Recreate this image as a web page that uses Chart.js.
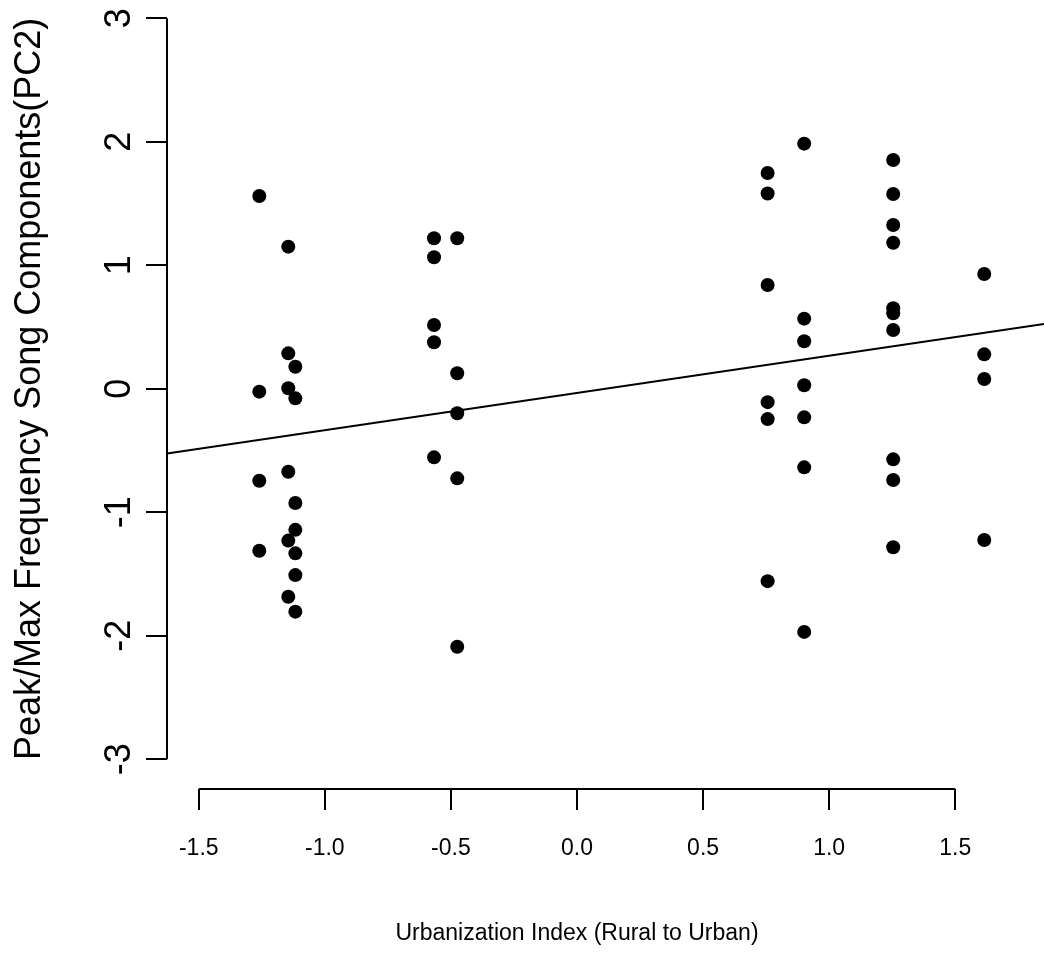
<!DOCTYPE html>
<html>
<head>
<meta charset="utf-8">
<script src="https://cdn.jsdelivr.net/npm/chart.js@4/dist/chart.umd.min.js"></script>
<style>
  html, body { margin: 0; padding: 0; background: #ffffff; }
  #wrap { width: 1044px; height: 957px; position: relative; }
</style>
</head>
<body>
<div id="wrap"><canvas id="chart" width="1044" height="957"></canvas></div>
<script>
// Urbanization index of each recording site (x) and song PC2 score (y)
const urbanIndex = [
  -1.260, -1.260, -1.260, -1.260,
  -1.145, -1.145, -1.145, -1.145, -1.145, -1.145,
  -1.117, -1.117, -1.117, -1.117, -1.117, -1.117, -1.117,
  -0.567, -0.567, -0.567, -0.567, -0.567,
  -0.475, -0.475, -0.475, -0.475, -0.475,
  0.756, 0.756, 0.756, 0.756, 0.756, 0.756,
  0.901, 0.901, 0.901, 0.901, 0.901, 0.901, 0.901,
  1.254, 1.254, 1.254, 1.254, 1.254, 1.254, 1.254, 1.254, 1.254, 1.254,
  1.615, 1.615, 1.615, 1.615
];
const songPC2 = [
  1.561, -0.023, -0.744, -1.311,
  1.151, 0.287, 0.004, -0.671, -1.229, -1.683,
  0.179, -0.077, -0.925, -1.142, -1.332, -1.508, -1.804,
  1.219, 1.065, 0.517, 0.377, -0.555,
  1.219, 0.126, -0.198, -0.725, -2.088,
  1.747, 1.581, 0.841, -0.108, -0.245, -1.557,
  1.985, 0.568, 0.385, 0.029, -0.231, -0.636, -1.968,
  1.853, 1.577, 1.326, 1.183, 0.652, 0.611, 0.476, -0.571, -0.738, -1.283,
  0.930, 0.279, 0.079, -1.224
];

// Fitted regression line, end points
const fitX = [-1.626, 1.852];
const fitY = [-0.523, 0.525];

// Axis ticks and their labels
const xTicks = [-1.5, -1.0, -0.5, 0.0, 0.5, 1.0, 1.5];
const xTickLabels = ['-1.5', '-1.0', '-0.5', '0.0', '0.5', '1.0', '1.5'];
const yTicks = [-3, -2, -1, 0, 1, 2, 3];
const yTickLabels = ['-3', '-2', '-1', '0', '1', '2', '3'];

const xTitle = 'Urbanization Index (Rural to Urban)';
const yTitle = 'Peak/Max Frequency Song Components(PC2)';

const FAMILY = '"Liberation Sans", Arial, Helvetica, sans-serif';
const X_FONT = '23px ' + FAMILY;
const Y_FONT = '36px ' + FAMILY;

// Base-graphics style axes: lines span only the tick range, sitting on the plot edge
const rAxes = {
  id: 'rAxes',
  afterDraw(chart) {
    const ctx = chart.ctx;
    const xs = chart.scales.x, ys = chart.scales.y;
    const area = chart.chartArea;
    const tickLen = 21;
    ctx.save();
    ctx.strokeStyle = '#000';
    ctx.fillStyle = '#000';
    ctx.lineWidth = 2;
    ctx.lineCap = 'butt';

    // x axis
    const xb = area.bottom;
    const x0 = xs.getPixelForValue(xTicks[0]);
    const x1 = xs.getPixelForValue(xTicks[xTicks.length - 1]);
    ctx.beginPath();
    ctx.moveTo(x0, xb); ctx.lineTo(x1, xb);
    xTicks.forEach(v => {
      const px = Math.round(xs.getPixelForValue(v));
      ctx.moveTo(px, xb); ctx.lineTo(px, xb + tickLen);
    });
    ctx.stroke();
    ctx.font = X_FONT;
    ctx.textAlign = 'center';
    ctx.textBaseline = 'middle';
    xTicks.forEach((v, i) => {
      ctx.fillText(xTickLabels[i], xs.getPixelForValue(v), xb + 60);
    });
    ctx.fillText(xTitle, (x0 + x1) / 2, xb + 145);

    // y axis
    const yl = area.left;
    const y0 = ys.getPixelForValue(yTicks[0]);
    const y1 = ys.getPixelForValue(yTicks[yTicks.length - 1]);
    ctx.beginPath();
    ctx.moveTo(yl, y0); ctx.lineTo(yl, y1);
    yTicks.forEach(v => {
      const py = Math.round(ys.getPixelForValue(v));
      ctx.moveTo(yl, py); ctx.lineTo(yl - tickLen, py);
    });
    ctx.stroke();
    ctx.font = Y_FONT;
    yTicks.forEach((v, i) => {
      ctx.save();
      ctx.translate(yl - 47, ys.getPixelForValue(v));
      ctx.rotate(-Math.PI / 2);
      ctx.fillText(yTickLabels[i], 0, 0);
      ctx.restore();
    });
    ctx.save();
    ctx.translate(yl - 137, (y0 + y1) / 2);
    ctx.rotate(-Math.PI / 2);
    ctx.fillText(yTitle, 0, 0);
    ctx.restore();
    ctx.restore();
  }
};

new Chart(document.getElementById('chart'), {
  type: 'scatter',
  data: {
    datasets: [
      {
        type: 'line',
        data: fitX.map((x, i) => ({ x: x, y: fitY[i] })),
        borderColor: '#000',
        borderWidth: 2,
        pointRadius: 0,
        fill: false,
        tension: 0
      },
      {
        type: 'scatter',
        data: urbanIndex.map((x, i) => ({ x: x, y: songPC2[i] })),
        backgroundColor: '#000',
        borderColor: '#000',
        borderWidth: 0,
        pointRadius: 7,
        pointHoverRadius: 7,
        clip: false
      }
    ]
  },
  options: {
    responsive: false,
    devicePixelRatio: 1,
    animation: false,
    events: [],
    layout: { autoPadding: false, padding: { left: 167, top: 0, right: 0, bottom: 168 } },
    scales: {
      x: { type: 'linear', display: false, min: -1.626, max: 1.852 },
      y: { type: 'linear', display: false, min: -3.24, max: 3.148 }
    },
    plugins: {
      legend: { display: false },
      tooltip: { enabled: false }
    }
  },
  plugins: [rAxes]
});
</script>
</body>
</html>
